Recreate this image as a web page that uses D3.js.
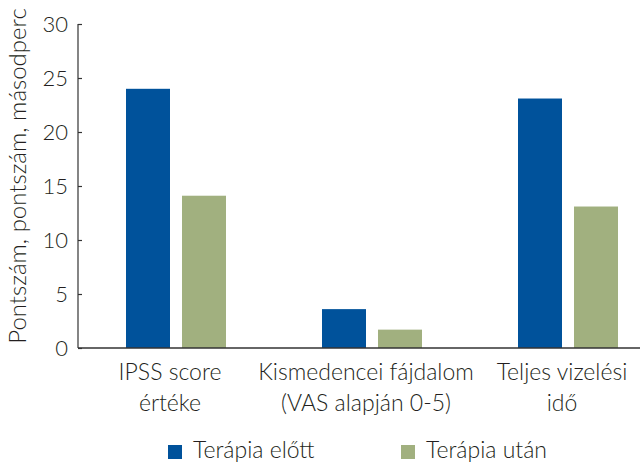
<!DOCTYPE html>
<html><head><meta charset="utf-8">
<script src="https://cdn.jsdelivr.net/npm/d3@7"></script>
<style>body{margin:0;background:#fff}text{font-family:Lato,"Open Sans",sans-serif;font-weight:300;fill:#231f20}</style>
</head><body><svg id="c" width="640" height="464"></svg>
<script>
const categories = [["IPSS score","értéke"],["Kismedencei fájdalom","(VAS alapján 0-5)"],["Teljes vizelési","idő"]];
const seriesNames = ["Terápia előtt","Terápia után"];
const before = [24, 3.6, 23.1];
const after = [14.1, 1.7, 13.1];
const yTicks = [0,5,10,15,20,25,30];
const colors = ["#00529b","#a1b07f"];

const svg = d3.select("#c");
const y = d3.scaleLinear().domain([0,30]).range([348,24]);
const x = d3.scaleBand().domain(d3.range(categories.length)).range([78,666]).padding(0);
const inner = d3.scaleBand().domain([0,1]).range([x.bandwidth()/2-50, x.bandwidth()/2+50]).paddingInner(12/56);

const data = categories.map((c,i)=>({i, vals:[before[i], after[i]]}));
const g = svg.selectAll("g.grp").data(data).join("g").attr("transform", d=>`translate(${x(d.i)},0)`);
g.selectAll("rect").data(d=>d.vals.map((v,k)=>({v,k}))).join("rect")
 .attr("x", d=>inner(d.k)).attr("width", inner.bandwidth())
 .attr("y", d=>y(d.v)).attr("height", d=>y(0)-y(d.v)).attr("fill", d=>colors[d.k]);

// y axis
const ya = svg.append("g").attr("transform","translate(78,0)")
 .call(d3.axisRight(y).tickValues(yTicks).tickSize(4).tickFormat(d3.format("d")));
ya.select(".domain").attr("stroke","#333").attr("stroke-width",1.2).attr("d","M0,24V348");
ya.selectAll(".tick line").attr("stroke","#333").attr("stroke-width",1.2);
ya.selectAll(".tick text").attr("x",-10).attr("dy","0.36em").attr("text-anchor","end").style("font-size","22px").attr("fill","#231f20");

// x axis line
svg.append("line").attr("x1",78).attr("x2",640).attr("y1",y(0)).attr("y2",y(0)).attr("stroke","#333").attr("stroke-width",1.5);

// category labels
const lab = svg.selectAll("text.cat").data(categories).join("text").attr("class","cat")
 .attr("text-anchor","middle").style("font-size","23px");
lab.each(function(d,i){
  const t = d3.select(this);
  d.forEach((line,j)=>t.append("tspan").attr("x", x(i)+x.bandwidth()/2 - 6).attr("y", 380 + j*31).text(line));
});

// y title
svg.append("text").attr("transform","translate(26,176) rotate(-90)").attr("text-anchor","middle")
 .style("font-size","24px").text("Pontszám, pontszám, másodperc");

// legend
const legX = [168, 401];
seriesNames.forEach((n,k)=>{
  svg.append("rect").attr("x",legX[k]).attr("y",445).attr("width",14).attr("height",14).attr("fill",colors[k]);
  svg.append("text").attr("x",legX[k]+25).attr("y",458).style("font-size","23px").text(n);
});
</script></body></html>
